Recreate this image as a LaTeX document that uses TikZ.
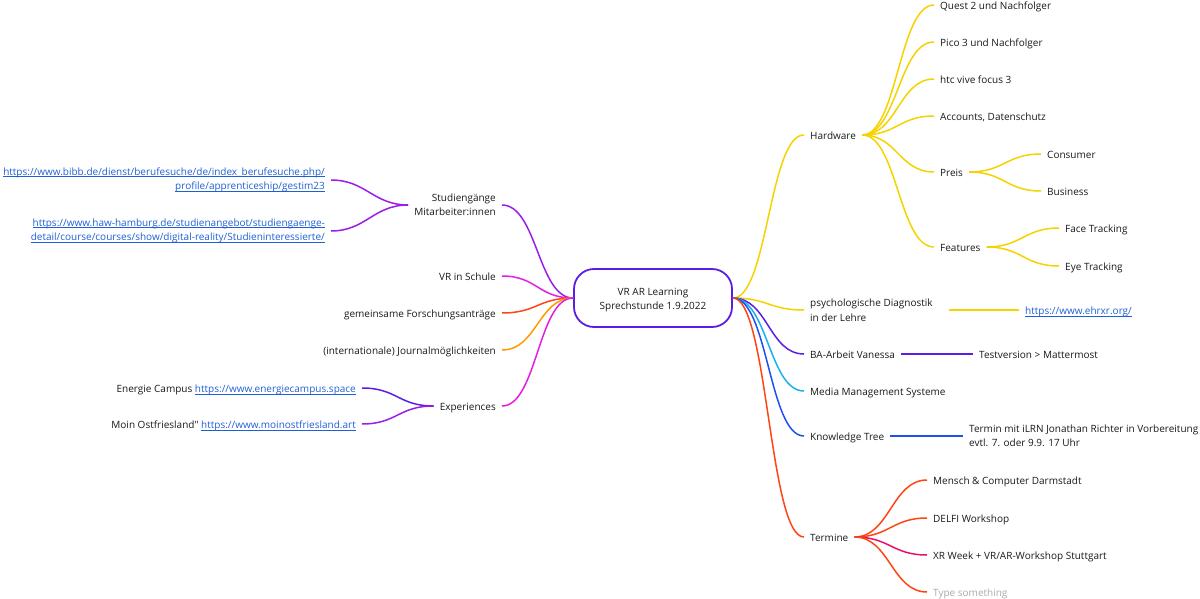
\documentclass[tikz,border=0pt]{standalone}
\usepackage{fontspec}
\setmainfont{Open Sans}[Ligatures=TeXOff]
\usepackage{tikz}

\definecolor{hwyellow}{HTML}{F5D300}
\definecolor{indigoline}{HTML}{5A1EE6}
\definecolor{purpleline}{HTML}{9A1EE6}
\definecolor{magentaline}{HTML}{E41EE0}
\definecolor{redline}{HTML}{FF4513}
\definecolor{orangeline}{HTML}{FF9A00}
\definecolor{cyanline}{HTML}{1AB0F0}
\definecolor{blueline}{HTML}{1E50F0}
\definecolor{crimsonline}{HTML}{E8106E}
\definecolor{linkblue}{HTML}{1F5FD6}
\definecolor{typegray}{HTML}{AAAAAA}
\newsavebox{\linkbox}
\newcommand{\weblink}[1]{\sbox{\linkbox}{\color{linkblue}#1}{\color{linkblue}\rlap{\rule[-1.6pt]{\wd\linkbox}{0.6pt}}}\usebox{\linkbox}}

\begin{document}
\begin{tikzpicture}[x=1pt, y=-1pt,
    every node/.style={font=\fontsize{10}{14.5}\selectfont, text=black!90, inner xsep=6pt, inner ysep=2pt},
    topic/.style={text height=9.5pt, text depth=0.5pt},
    branch/.style={line width=1.5pt, to path={.. controls ([xshift=35pt]\tikztostart) and ([xshift=-35pt]\tikztotarget) .. (\tikztotarget)}},
    lbranch/.style={line width=1.5pt, to path={.. controls ([xshift=-35pt]\tikztostart) and ([xshift=35pt]\tikztotarget) .. (\tikztotarget)}},
    link/.style={line width=1.5pt}]
            \useasboundingbox (0,0) rectangle (1200,599);
            \node [draw=indigoline, line width=1.8pt, rounded corners=20pt, minimum width=158pt, minimum height=58pt, align=center] (root) at (653,298) {\rule{0pt}{11pt}VR AR Learning\\Sprechstunde 1.9.2022};
            % right side
            \node [topic, anchor=west] (hw) at (804,135) {Hardware};
            \node [anchor=west, align=left] (psy) at (804,310) {psychologische Diagnostik\\in der Lehre};
            \node [topic, anchor=west] (ba) at (804,354) {BA-Arbeit Vanessa};
            \node [topic, anchor=west] (mms) at (804,391) {Media Management Systeme};
            \node [topic, anchor=west] (kt) at (804,436) {Knowledge Tree};
            \node [topic, anchor=west] (ter) at (804,537) {Termine};
            \node [topic, anchor=west] (quest) at (934,5) {Quest 2 und Nachfolger};
            \node [topic, anchor=west] (pico) at (934,42) {Pico 3 und Nachfolger};
            \node [topic, anchor=west] (htc) at (934,79) {htc vive focus 3};
            \node [topic, anchor=west] (acc) at (934,116) {Accounts, Datenschutz};
            \node [topic, anchor=west] (preis) at (934,172) {Preis};
            \node [topic, anchor=west] (feat) at (934,247) {Features};
            \node [topic, anchor=west] (cons) at (1041,154) {Consumer};
            \node [topic, anchor=west] (bus) at (1041,191) {Business};
            \node [topic, anchor=west] (face) at (1059,228) {Face Tracking};
            \node [topic, anchor=west] (eye) at (1059,266) {Eye Tracking};
            \node [topic, anchor=west] (ehr) at (1019,310) {\weblink{https://www.ehrxr.org/}};
            \node [topic, anchor=west] (test) at (973,354) {Testversion > Mattermost};
            \node [anchor=west, align=left] (ilrn) at (963,436) {Termin mit iLRN Jonathan Richter in Vorbereitung\\evtl. 7. oder 9.9. 17 Uhr};
            \node [topic, anchor=west] (mc) at (927,480) {Mensch \& Computer Darmstadt};
            \node [topic, anchor=west] (delfi) at (927,518) {DELFI Workshop};
            \node [topic, anchor=west] (xr) at (927,555) {XR Week + VR/AR-Workshop Stuttgart};
            \node [topic, anchor=west, text=typegray] (type) at (927,592) {Type something};
            % left side
            \node [anchor=east, align=right] (stu) at (502,205) {Studiengänge\\Mitarbeiter:innen};
            \node [topic, anchor=east] (vrs) at (502,276) {VR in Schule};
            \node [topic, anchor=east] (fors) at (502,313) {gemeinsame Forschungsanträge};
            \node [topic, anchor=east] (jour) at (502,350) {(internationale) Journalmöglichkeiten};
            \node [topic, anchor=east] (exp) at (502,406) {Experiences};
            \node [anchor=east, align=right] (bibb) at (331,180) {\weblink{https://www.bibb.de/dienst/berufesuche/de/index\_berufesuche.php/}\\\weblink{profile/apprenticeship/gestim23}};
            \node [anchor=east, align=right] (haw) at (331,231) {\weblink{https://www.haw-hamburg.de/studienangebot/studiengaenge-}\\\weblink{detail/course/courses/show/digital-reality/Studieninteressierte/}};
            \node [topic, anchor=east] (eca) at (362,388) {Energie Campus \weblink{https://www.energiecampus.space}};
            \node [topic, anchor=east] (moin) at (362,424) {Moin Ostfriesland" \weblink{https://www.moinostfriesland.art}};
            % connectors
            \draw [branch, hwyellow] (root.east) to (hw.west);
            \draw [branch, hwyellow] (root.east) to (psy.west);
            \draw [branch, indigoline] (root.east) to (ba.west);
            \draw [branch, cyanline] (root.east) to (mms.west);
            \draw [branch, blueline] (root.east) to (kt.west);
            \draw [branch, redline] (root.east) to (ter.west);
            \draw [branch, hwyellow] (hw.east) to (quest.west);
            \draw [branch, hwyellow] (hw.east) to (pico.west);
            \draw [branch, hwyellow] (hw.east) to (htc.west);
            \draw [branch, hwyellow] (hw.east) to (acc.west);
            \draw [branch, hwyellow] (hw.east) to (preis.west);
            \draw [branch, hwyellow] (hw.east) to (feat.west);
            \draw [branch, hwyellow] (preis.east) to (cons.west);
            \draw [branch, hwyellow] (preis.east) to (bus.west);
            \draw [branch, hwyellow] (feat.east) to (face.west);
            \draw [branch, hwyellow] (feat.east) to (eye.west);
            \draw [link, hwyellow] ([xshift=10pt]psy.east) -- (ehr.west);
            \draw [link, indigoline] (ba.east) -- (test.west);
            \draw [link, blueline] (kt.east) -- (ilrn.west);
            \draw [branch, redline] (ter.east) to (mc.west);
            \draw [branch, redline] (ter.east) to (delfi.west);
            \draw [branch, crimsonline] (ter.east) to (xr.west);
            \draw [branch, redline] (ter.east) to (type.west);
            \draw [lbranch, purpleline] (root.west) to (stu.east);
            \draw [lbranch, magentaline] (root.west) to (vrs.east);
            \draw [lbranch, redline] (root.west) to (fors.east);
            \draw [lbranch, orangeline] (root.west) to (jour.east);
            \draw [lbranch, magentaline] (root.west) to (exp.east);
            \draw [lbranch, purpleline] (stu.west) to (bibb.east);
            \draw [lbranch, purpleline] (stu.west) to (haw.east);
            \draw [lbranch, indigoline] (exp.west) to (eca.east);
            \draw [lbranch, purpleline] (exp.west) to (moin.east);
        \end{tikzpicture}
\end{document}
